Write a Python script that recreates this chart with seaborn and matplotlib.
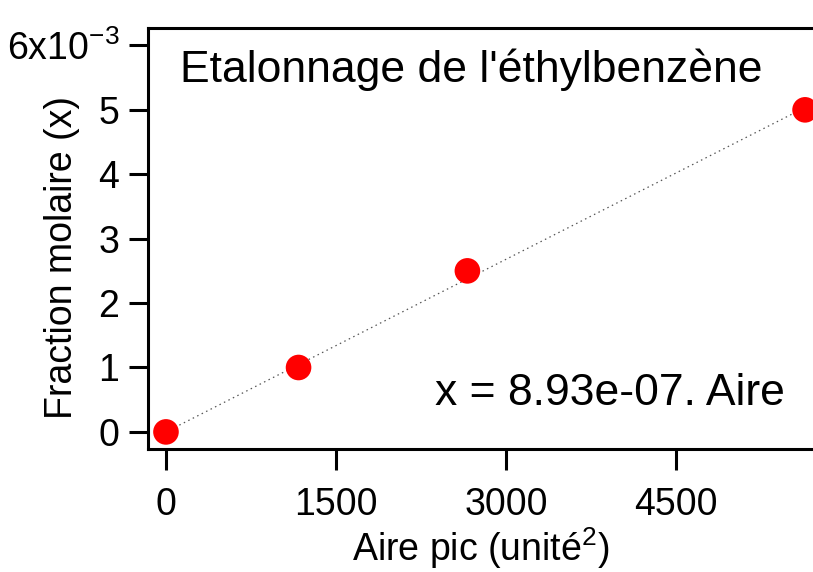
import numpy as np
import pandas as pd
import seaborn as sns
import matplotlib
matplotlib.use("Agg")
import matplotlib.pyplot as plt
from matplotlib.ticker import FixedLocator

# Calibration data for ethylbenzene
aire = [0, 1170, 2660, 5640]                 # peak area (unit^2)
fraction = [0.0, 0.0010, 0.0025, 0.0050]     # mole fraction
pente = 8.93e-07                              # fitted slope through origin

x_ticks = [0, 1500, 3000, 4500]
y_ticks = [0, 0.001, 0.002, 0.003, 0.004, 0.005, 0.006]
y_labels = ["0", "1", "2", "3", "4", "5", r"6x10$^{\mathregular{-3}}$"]

titre = "Etalonnage de l'éthylbenzène"
equation = "x = 8.93e-07. Aire"
x_label = "Aire pic (unité$^{\\mathregular{2}}$)"
y_label = "Fraction molaire (x)"

sns.set_style("white")
plt.rcParams["font.family"] = ["Liberation Sans", "DejaVu Sans"]
plt.rcParams["mathtext.fontset"] = "custom"
plt.rcParams["mathtext.rm"] = "Liberation Sans"
plt.rcParams["mathtext.it"] = "Liberation Sans"
plt.rcParams["text.color"] = "black"
plt.rcParams["axes.labelcolor"] = "black"

df = pd.DataFrame({"aire": aire, "fraction": fraction})
fit_x = np.array([0, max(aire)])
fit = pd.DataFrame({"aire": fit_x, "fraction": pente * fit_x})

fig = plt.figure(figsize=(8.13, 5.72), dpi=100)
ax = fig.add_axes([0.1824, 0.2145, 0.8176, 0.7365])

sns.lineplot(data=fit, x="aire", y="fraction", ax=ax, color="#555555",
             linewidth=0.9, linestyle=(0, (1.2, 2.8)))
sns.scatterplot(data=df, x="aire", y="fraction", ax=ax, color="#ff0000",
                s=340, edgecolor="none", zorder=3, clip_on=False)

ax.set_xlim(-156, 5710)
ax.set_ylim(-0.00027, 0.00627)
ax.xaxis.set_major_locator(FixedLocator(x_ticks))
ax.yaxis.set_major_locator(FixedLocator(y_ticks))
ax.set_xticklabels([str(t) for t in x_ticks])
ax.set_yticklabels(y_labels)

for side in ["left", "bottom", "top"]:
    ax.spines[side].set_visible(True)
    ax.spines[side].set_linewidth(2.2)
    ax.spines[side].set_color("black")
ax.spines["right"].set_visible(False)

ax.tick_params(axis="both", which="major", direction="out", width=2.2,
               color="black", labelsize=27, labelcolor="black")
ax.tick_params(axis="x", length=15, pad=12, bottom=True)
ax.tick_params(axis="y", length=14, pad=7, left=True)

ax.set_xlabel(x_label, fontsize=27, labelpad=2)
ax.set_ylabel(y_label, fontsize=27)
ax.yaxis.set_label_coords(-0.103, 0.455)

ax.text(0.048, 0.872, titre, transform=ax.transAxes, fontsize=32,
        ha="left", va="baseline")
ax.text(0.958, 0.105, equation, transform=ax.transAxes, fontsize=32,
        ha="right", va="baseline")

fig.savefig("out.png", dpi=100)
